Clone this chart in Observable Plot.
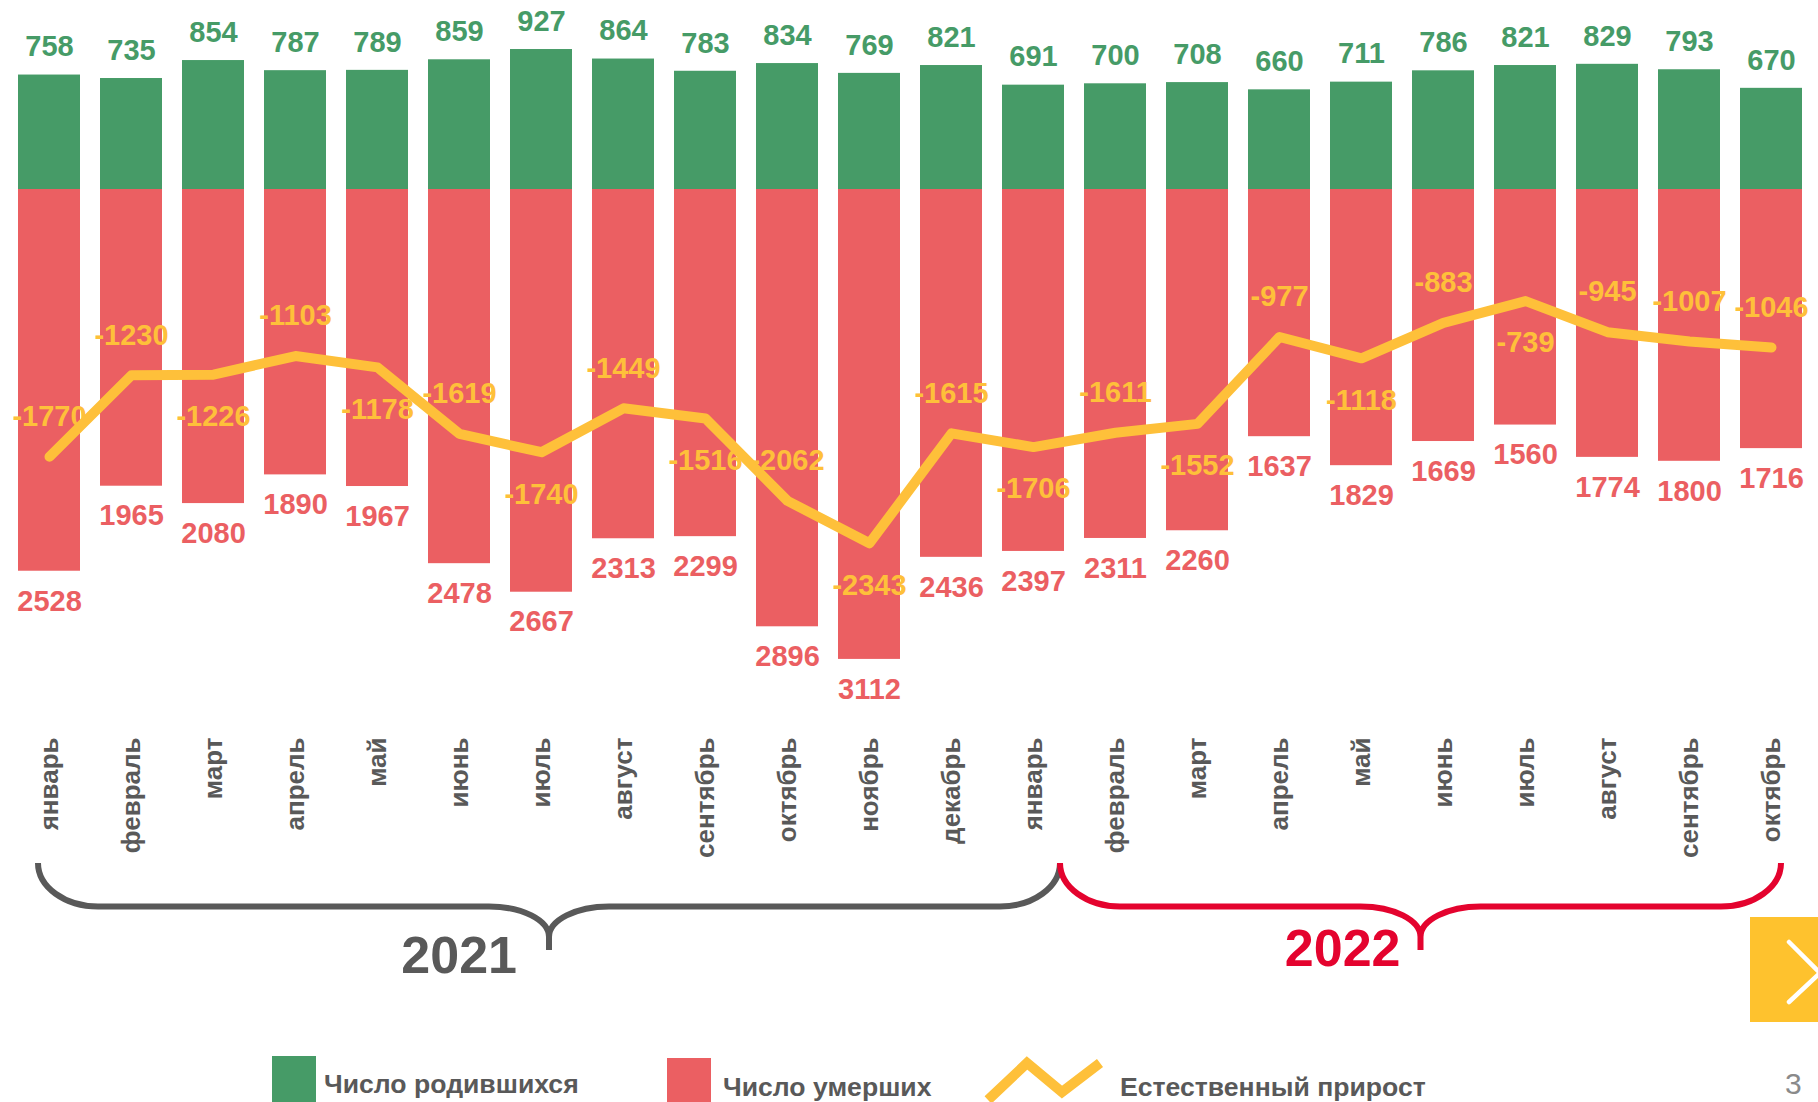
<!DOCTYPE html>
<html>
<head>
<meta charset="utf-8">
<script src="https://cdn.jsdelivr.net/npm/d3@7"></script>
<script src="https://cdn.jsdelivr.net/npm/@observablehq/plot@0.6"></script>
<style>
  html, body { margin: 0; padding: 0; background: #fff; }
  #wrap { position: relative; width: 1818px; height: 1102px; overflow: hidden;
          font-family: "Liberation Sans", Arial, sans-serif; }
  #chart svg { display: block; }
  .lg { position: absolute; font-size: 26.6px; font-weight: bold; color: #595959;
        line-height: 26px; white-space: nowrap; }
  .sw { position: absolute; }
</style>
</head>
<body>
<div id="wrap">
  <div id="chart"></div>
  <div class="sw" style="left:272px;top:1056px;width:44px;height:50px;background:#469B67"></div>
  <div class="lg" style="left:324px;top:1071px">Число родившихся</div>
  <div class="sw" style="left:667px;top:1058px;width:44px;height:50px;background:#EB5F62"></div>
  <div class="lg" style="left:723px;top:1074px">Число умерших</div>
  <svg class="sw" style="left:980px;top:1050px" width="130" height="60">
    <polyline points="8,50 47,13 82,42 120,13" fill="none" stroke="#FEC03A" stroke-width="10" stroke-linejoin="miter"/>
  </svg>
  <div class="lg" style="left:1120px;top:1074px">Естественный прирост</div>
  <div style="position:absolute;left:1750px;top:917px;width:70px;height:105px;background:#FEC22E">
    <svg width="70" height="105" style="display:block;overflow:visible">
      <polyline points="39,25 70,56 39,85" fill="none" stroke="#fff" stroke-width="4.5" stroke-linecap="round" stroke-linejoin="round"/>
    </svg>
  </div>
  <div style="position:absolute;left:1785px;top:1070px;font-size:30px;line-height:28px;height:28px;color:#8a8a8a;font-family:'Liberation Sans',Arial,sans-serif">3</div>
</div>
<script>
// ---- data ----
const monthLabels = ["январь","февраль","март","апрель","май","июнь","июль","август","сентябрь","октябрь","ноябрь","декабрь",
                     "январь","февраль","март","апрель","май","июнь","июль","август","сентябрь","октябрь"];
const years = [2021,2021,2021,2021,2021,2021,2021,2021,2021,2021,2021,2021,
               2022,2022,2022,2022,2022,2022,2022,2022,2022,2022];
const births = [758,735,854,787,789,859,927,864,783,834,769,821,
                691,700,708,660,711,786,821,829,793,670];
const deaths = [2528,1965,2080,1890,1967,2478,2667,2313,2299,2896,3112,2436,
                2397,2311,2260,1637,1829,1669,1560,1774,1800,1716];
const natural = [-1770,-1230,-1226,-1103,-1178,-1619,-1740,-1449,-1516,-2062,-2343,-1615,
                 -1706,-1611,-1552,-977,-1118,-883,-739,-945,-1007,-1046];
// which side of the line each natural-increase label sits on
const natLabelSide = ["above","above","below","above","below","above","below","above","below","above","below","above",
                      "below","above","below","above","below","above","below","above","above","above"];
const yearNames = ["2021","2022"];

// ---- styles ----
const GREEN = "#469B67", RED = "#EB5F62", YELLOW = "#FEC03A", GRAY = "#595959", RED22 = "#E4032E";
const FONT = '"Liberation Sans", Arial, sans-serif';

const keys = monthLabels.map((m, i) => `${years[i]}-${i}-${m}`);
const data = keys.map((k, i) => ({
  key: k, month: monthLabels[i], births: births[i], deaths: deaths[i],
  negDeaths: -deaths[i], natural: natural[i], side: natLabelSide[i]
}));

const K = 0.151, Y0 = 189;
const labelFont = {fontSize: 29, fontWeight: "bold", fontFamily: FONT};

const plot = Plot.plot({
  width: 1818, height: 1040,
  marginTop: 0, marginLeft: 0, marginRight: 0, marginBottom: 310,
  style: {fontFamily: FONT, background: "transparent", overflow: "visible", color: GRAY},
  x: {type: "band", domain: keys, range: [5.3, 1814.4], paddingInner: 0.24, paddingOuter: 0.12, axis: null},
  y: {type: "linear", domain: [-3400, 1000], range: [Y0 + 3400 * K, Y0 - 1000 * K], axis: null},
  marks: [
    Plot.barY(data, {x: "key", y1: 0, y2: "births", fill: GREEN}),
    Plot.barY(data, {x: "key", y1: 0, y2: "negDeaths", fill: RED}),
    Plot.line(data, {x: "key", y: "natural", stroke: YELLOW, strokeWidth: 10,
                     strokeLinecap: "round", strokeLinejoin: "round"}),
    Plot.text(data, {x: "key", y: "births", text: d => String(d.births), dy: -28, fill: GREEN, ...labelFont}),
    Plot.text(data, {x: "key", y: "negDeaths", text: d => String(d.deaths), dy: 30, fill: RED, ...labelFont}),
    Plot.text(data.filter(d => d.side === "above"), {x: "key", y: "natural", text: d => String(d.natural),
              dy: -40, fill: YELLOW, ...labelFont}),
    Plot.text(data.filter(d => d.side === "below"), {x: "key", y: "natural", text: d => String(d.natural),
              dy: 42, fill: YELLOW, ...labelFont}),
    Plot.text(data, {x: "key", frameAnchor: "bottom", text: "month", rotate: -90,
                     textAnchor: "end", lineAnchor: "middle", dy: 7,
                     fontSize: 26, fontWeight: "bold", fill: GRAY, fontFamily: FONT})
  ]
});
document.getElementById("chart").appendChild(plot);

// ---- year braces ----
const xs = plot.scale("x");
const cx = i => xs.apply(keys[i]) + xs.bandwidth / 2;
const svg = d3.select(plot);

function bracePath(x0, x1, yTop, yMid, yTip2, yTip, r) {
  const xm = (x0 + x1) / 2, c = 0.552;
  const dT = yMid - yTop, dP = yTip2 - yMid;
  return `M${x0},${yTop} C${x0},${yTop + c * dT} ${x0 + r * (1 - c)},${yMid} ${x0 + r},${yMid}` +
         ` L${xm - r},${yMid} C${xm - r + c * r},${yMid} ${xm},${yTip2 - c * dP} ${xm},${yTip2} L${xm},${yTip}` +
         ` M${x1},${yTop} C${x1},${yTop + c * dT} ${x1 - r * (1 - c)},${yMid} ${x1 - r},${yMid}` +
         ` L${xm + r},${yMid} C${xm + r - c * r},${yMid} ${xm},${yTip2 - c * dP} ${xm},${yTip2}`;
}
const bx0 = cx(0) - 11, bx1 = cx(12) + 27, bx2 = cx(21) + 10;
const braces = [
  {x0: bx0, x1: bx1, color: GRAY, label: yearNames[0], off: 32, base: 973},
  {x0: bx1, x1: bx2, color: RED22, label: yearNames[1], off: 20, base: 966}
];
braces.forEach(b => {
  svg.append("path")
    .attr("d", bracePath(b.x0, b.x1, 863, 906.5, 937, 950, 60))
    .attr("fill", "none").attr("stroke", b.color).attr("stroke-width", 6);
  svg.append("text")
    .attr("x", (b.x0 + b.x1) / 2 - b.off).attr("y", b.base)
    .attr("text-anchor", "end").attr("fill", b.color)
    .attr("font-size", 52).attr("font-weight", "bold").attr("font-family", FONT)
    .text(b.label);
});
</script>
</body>
</html>
